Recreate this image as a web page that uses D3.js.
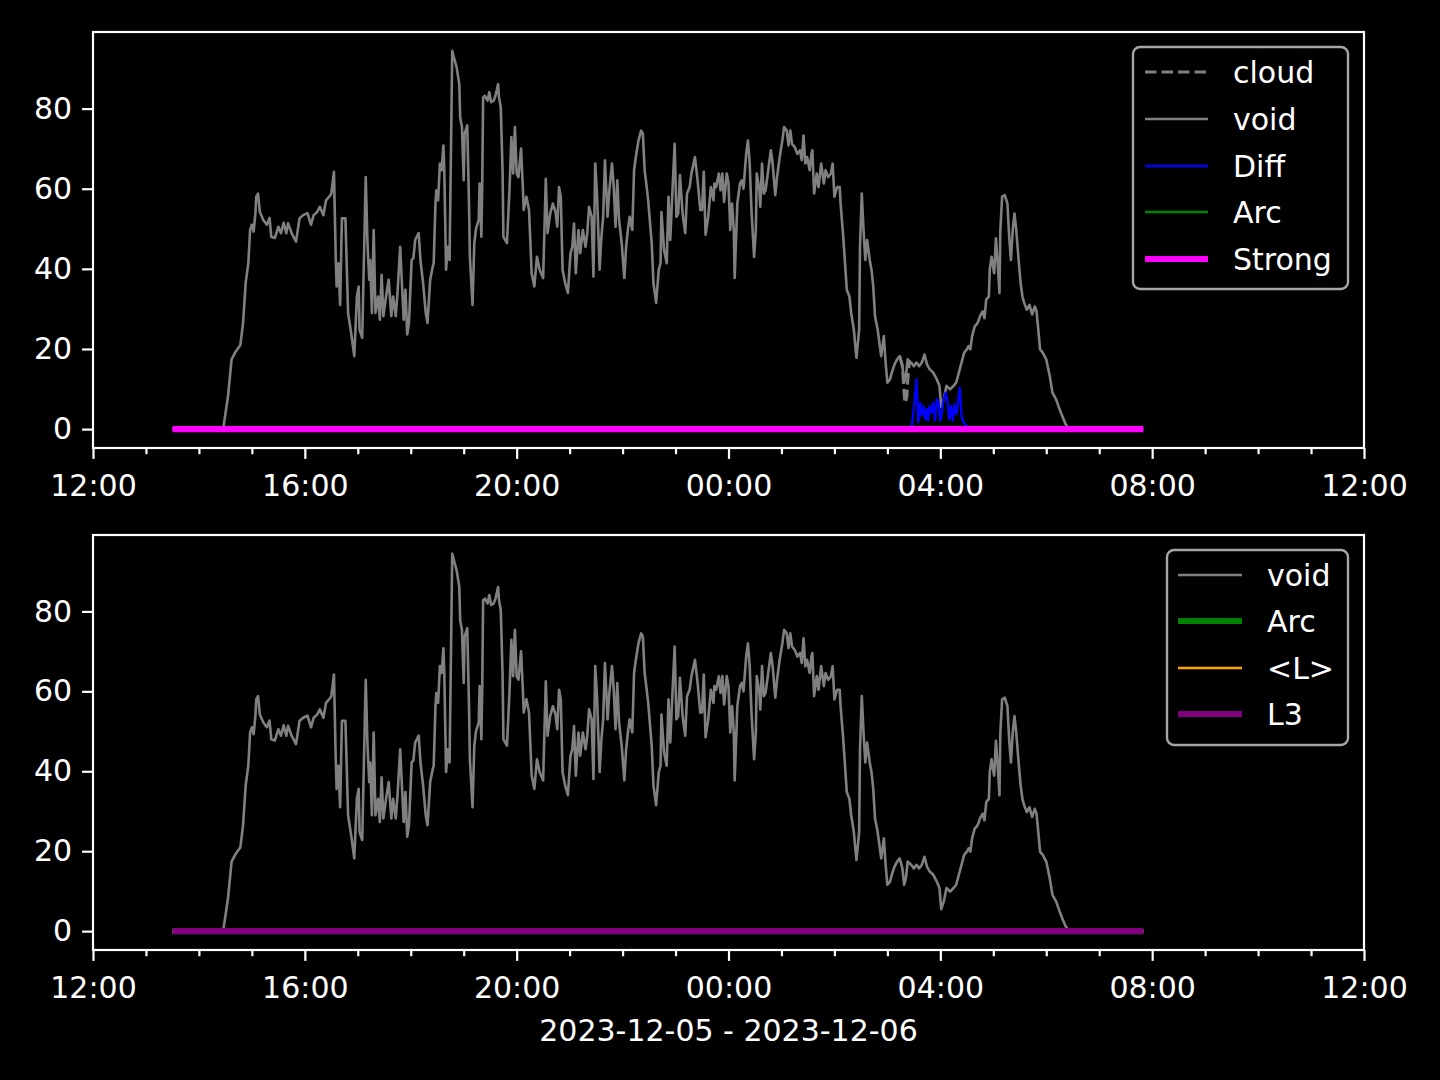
<!DOCTYPE html>
<html><head><meta charset="utf-8">
<script src="https://cdn.jsdelivr.net/npm/d3@7"></script>
<style>html,body{margin:0;background:#000;} svg{display:block;}</style>
</head><body>
<svg id="chart" width="1440" height="1080"></svg>
<script>
// Times are minutes after 2023-12-05 12:00
const voidPoints = [[90,0],[146,0],[148,0.8],[153,8.3],[157,17.4],[161,19.1],[167,21],[170,26.5],[173,36.5],[176,41.5],[178,49.7],[180,51],[182,49.3],[184,53.9],[185,58],[187,58.8],[189,54.2],[193,52.2],[197,51],[200,52.7],[202,48],[206,47.7],[210,50.5],[213,48.9],[216,51.5],[219,48.9],[221,51.4],[225,48.9],[230,46.8],[234,52.6],[238,53.4],[243,53.9],[247,51],[250,53.4],[254,54.2],[257,55.5],[261,53.4],[264,57.1],[269,58.4],[270,58.8],[273,64.2],[275,43],[276,35.6],[278,41.4],[280,31],[282,52.6],[286,52.6],[289,29],[293,23.2],[296,18.2],[299,33.1],[301,35.6],[302,24.8],[305,22.8],[309,62.9],[311,46.4],[313,37.3],[314,42.2],[316,29],[318,49.7],[320,29],[323,33.1],[325,27.3],[327,38.5],[329,28.2],[332,33.1],[335,37.3],[338,28.2],[340,33.1],[343,28.2],[345,34],[348,45.5],[350,36.4],[352,27.3],[354,34.8],[356,23.6],[358,26.5],[361,42.2],[363,42.7],[365,47.2],[369,48.9],[371,42.2],[374,36.4],[377,29],[379,26.5],[382,37.3],[385,40.6],[386,41.4],[388,56.3],[389,59.6],[391,57.1],[393,66.3],[395,64.6],[397,70.8],[398,64.6],[400,39.8],[402,45.5],[404,42.2],[407,94.4],[409,92.7],[412,90.3],[415,86.1],[416,77.8],[418,75.4],[420,62.1],[421,73.7],[424,75.8],[426,56.3],[427,43],[430,31],[432,46.4],[434,50.1],[437,52.2],[438,61.3],[440,48],[441,61.3],[442,82.8],[444,83.2],[447,82],[449,84.1],[451,81.6],[454,82],[456,83.2],[459,86.1],[460,82.8],[462,80.3],[464,64.6],[465,48],[469,46.4],[472,60.4],[474,72.9],[476,63.8],[478,75.4],[480,63.8],[482,62.9],[485,70],[487,60.4],[488,54.7],[491,58],[494,54.7],[497,38.9],[500,35.6],[503,43],[506,39.8],[510,37.7],[513,62.5],[515,48.9],[518,53.8],[521,56.3],[524,54.2],[526,50.5],[528,60.4],[530,58],[532,39.8],[535,36.4],[538,34],[541,43.9],[543,45.5],[545,51.3],[547,38.9],[550,49.7],[552,43.9],[555,49.7],[558,45.5],[560,48.9],[562,55.5],[565,53],[567,38.1],[569,66.3],[571,58.8],[574,39.8],[576,48],[578,53],[580,67.1],[583,53],[585,59.6],[588,66.3],[590,60.4],[592,50.5],[594,62.1],[596,52.2],[599,46.4],[602,37.7],[604,45.5],[606,49.7],[608,53],[611,49.7],[613,64.6],[615,67.9],[618,72],[621,74.5],[623,73.7],[625,64.6],[627,61],[629,57.1],[633,46.4],[635,36.4],[638,31.5],[641,39.8],[643,41.4],[644,54.2],[647,44.7],[650,41.4],[652,58],[654,47.2],[656,57.1],[659,71.2],[661,53],[663,53.8],[665,63.4],[668,53.8],[671,48.9],[673,58.8],[676,60.4],[678,63.8],[682,67.9],[685,62.1],[688,54.7],[690,54.7],[692,64.2],[694,48.5],[697,53],[700,60.4],[703,57.1],[704,61.3],[706,60.4],[709,63.8],[711,59.6],[713,63.8],[715,56.7],[718,63.8],[720,61.3],[722,49.7],[724,56.3],[726,49.7],[727,37.7],[730,56.3],[733,61.3],[735,62.1],[737,60],[740,68.7],[742,72],[744,66.3],[746,54.7],[749,43],[751,49.7],[752,63.8],[755,59.6],[756,55.5],[758,66.3],[760,58.8],[762,59.6],[765,64.6],[768,69.6],[770,66.3],[773,58.4],[775,62.9],[778,67.9],[781,72],[783,75.4],[786,74.5],[788,70.8],[790,74.5],[792,71.2],[795,70.4],[798,68.7],[801,69.6],[803,67.1],[805,73.3],[807,66.3],[809,67.9],[812,64.6],[814,68.7],[815,69.6],[817,58.8],[820,63.8],[822,60.4],[825,66.3],[828,61.3],[830,64.6],[833,62.9],[836,63.8],[838,66.3],[840,58],[843,60.4],[846,60.4],[847,56.3],[850,48],[852,41.4],[854,34.8],[857,33.1],[859,29],[862,24.8],[864,19.9],[865,17.8],[868,24.8],[869,45.5],[871,58.8],[873,49.7],[875,42.2],[877,47.2],[880,42.2],[882,39.8],[884,35.6],[886,28.2],[889,24.8],[891,21.5],[893,18.2],[896,23.2],[898,16.6],[900,11.6],[903,12.4],[905,14.1],[908,16.1],[911,17.4],[914,18.2],[917,15.7],[919,11.6],[921,13.2],[923,17.4],[927,16.6],[930,15.7],[933,16.6],[936,15.7],[939,16.6],[942,18.6],[945,16.1],[948,14.9],[952,14.1],[956,12.4],[959,10.8],[961,5.5],[964,7.5],[967,10.8],[971,9.9],[975,10.8],[978,11.6],[981,14.1],[984,16.6],[987,19.1],[990,19.9],[992,20.7],[994,19.9],[996,23.2],[999,25.7],[1001,26.1],[1003,26.9],[1005,28.2],[1008,29.4],[1010,27.7],[1012,32.3],[1015,33.1],[1016,39.8],[1018,43],[1021,38.9],[1023,47.6],[1025,41.4],[1027,34],[1028,49.7],[1030,58],[1033,58.4],[1036,56.3],[1038,48],[1040,42.2],[1042,49.7],[1044,53.8],[1046,49.7],[1049,41.4],[1051,36.4],[1053,33.1],[1055,31.5],[1058,29.8],[1061,31],[1064,28.6],[1067,30.6],[1069,29.4],[1071,24.8],[1073,19.9],[1076,19.1],[1080,17.4],[1084,13.2],[1087,9.1],[1091,7.5],[1095,5],[1098,3.3],[1102,1.2],[1104,0.6],[1106,0],[1190,0]];

const cloudPoints = [[914,18.2],[917,15.7],[919,9],[920,6.5],[922,8],[923,12],[925,17]];

const diffPoints = [[90,0],[926,0],[928,1.2],[929,3.3],[931,7.5],[933,12.4],[934,6.6],[935,1.7],[937,6.6],[939,3.3],[941,5.8],[943,2.5],[945,5],[946,2.1],[948,5.8],[950,4.1],[952,6.6],[954,2.1],[956,7.5],[958,6.6],[960,2.1],[962,4.5],[963,6.6],[966,9.1],[968,7],[970,2.5],[972,5.8],[974,2.1],[976,6.2],[978,3.7],[979,5],[982,10.4],[984,3.3],[986,1.7],[989,1],[991,0],[1190,0]];

const flatMinutes = [90, 1190];
const arcValues = [0, 0];
const strongValues = [0, 0];
const lValues = [0, 0];
const l3Values = [0, 0];

const xTickLabels = ["12:00","16:00","20:00","00:00","04:00","08:00","12:00"];
const yTicks = [0, 20, 40, 60, 80];
const xAxisLabel = "2023-12-05 - 2023-12-06";
const topLegendLabels = ["cloud","void","Diff","Arc","Strong"];
const bottomLegendLabels = ["void","Arc","<L>","L3"];

// ---------------- drawing ----------------
const svg = d3.select("#chart");
svg.append("rect").attr("width",1440).attr("height",1080).attr("fill","#000");
const FONT = "'DejaVu Sans', sans-serif";
const base = new Date(2023, 11, 5, 12, 0).getTime();
const toDate = m => new Date(base + m * 60000);

const left = 93, right = 1364;
const x = d3.scaleTime().domain([toDate(0), toDate(1440)]).range([left, right]);

const allVals = voidPoints.map(d => d[1]).concat(diffPoints.map(d => d[1]), strongValues);
const [lo, hi] = d3.extent(allVals);
const pad = (hi - lo) * 0.05;

const flat = vals => flatMinutes.map((m, i) => [m, vals[i]]);

const series = {
  cloud:  {pts: cloudPoints, color:"#808080", w:3.1, dash:"11.5,5"},
  void:   {pts: voidPoints, color:"#808080", w:2.6},
  Diff:   {pts: diffPoints, color:"#0000ff", w:2.3},
  ArcTop: {pts: flat(arcValues), color:"#008000", w:2.3},
  Strong: {pts: flat(strongValues), color:"#ff00ff", w:6.2},
  ArcBot: {pts: flat(arcValues), color:"#008000", w:6.2},
  L:      {pts: flat(lValues), color:"#ffa500", w:2.3},
  L3:     {pts: flat(l3Values), color:"#800080", w:6.2}
};

const panels = [
  {top:32, bottom:448, lines:["cloud","void","Diff","ArcTop","Strong"], legend:topLegendLabels,
   box:{x:1133,y:47,w:215,h:242}, rows:[72,119,166,212,259], lx:[1145,1208], tx:1233},
  {top:535, bottom:950, lines:["void","ArcBot","L","L3"], legend:bottomLegendLabels,
   box:{x:1167,y:550,w:181,h:195}, rows:[575,621,668,714], lx:[1178,1242], tx:1267}
];

panels.forEach((p, pi) => {
  const y = d3.scaleLinear().domain([lo - pad, hi + pad]).range([p.bottom, p.top]);
  const g = svg.append("g");
  const clipId = "clip" + pi;
  svg.append("clipPath").attr("id", clipId).append("rect")
    .attr("x", left).attr("y", p.top).attr("width", right-left).attr("height", p.bottom-p.top);

  const line = d3.line().x(d => x(toDate(d[0]))).y(d => y(d[1]));
  const lg = g.append("g").attr("clip-path", `url(#${clipId})`);
  p.lines.forEach(k => {
    const s = series[k];
    lg.append("path").attr("d", line(s.pts)).attr("fill","none")
      .attr("stroke", s.color).attr("stroke-width", s.w)
      .attr("stroke-linejoin","round")
      .attr("stroke-dasharray", s.dash || null);
  });

  // frame
  g.append("rect").attr("x", left).attr("y", p.top).attr("width", right-left).attr("height", p.bottom-p.top)
    .attr("fill","none").attr("stroke","#fff").attr("stroke-width",2.2);

  // x axis
  const major = d3.range(0, 1441, 240).map(toDate);
  const minor = d3.range(0, 1441, 60).filter(m => m % 240 !== 0).map(toDate);
  const xa = g.append("g").attr("transform", `translate(0,${p.bottom})`)
    .call(d3.axisBottom(x).tickValues(major).tickSize(10.9).tickPadding(16).tickFormat((d,i) => xTickLabels[i]));
  const xm = g.append("g").attr("transform", `translate(0,${p.bottom})`)
    .call(d3.axisBottom(x).tickValues(minor).tickSize(6.2).tickFormat(""));
  // y axis
  const ya = g.append("g").attr("transform", `translate(${left},0)`)
    .call(d3.axisLeft(y).tickValues(yTicks).tickSize(10.9).tickPadding(10));
  [xa, xm, ya].forEach(a => {
    a.select(".domain").remove();
    a.selectAll("line").attr("stroke","#fff").attr("stroke-width",2.2);
    a.selectAll("text").attr("fill","#fff").style("font-family", FONT).style("font-size","30px");
  });

  // legend
  const b = p.box;
  g.append("rect").attr("x", b.x).attr("y", b.y).attr("width", b.w).attr("height", b.h)
    .attr("rx", 7).attr("fill","#000").attr("fill-opacity",0.8)
    .attr("stroke","#a6a6a6").attr("stroke-width",2.4);
  p.lines.forEach((k, i) => {
    const s = series[k];
    const ry = p.rows[i];
    g.append("line").attr("x1", p.lx[0]).attr("x2", p.lx[1]).attr("y1", ry).attr("y2", ry)
      .attr("stroke", s.color).attr("stroke-width", s.w)
      .attr("stroke-dasharray", s.dash || null);
    g.append("text").attr("x", p.tx).attr("y", ry + 11).text(p.legend[i])
      .attr("fill","#fff").style("font-family", FONT).style("font-size","30px");
  });
});

svg.append("text").attr("x", (left+right)/2).attr("y", 1041).attr("text-anchor","middle")
  .text(xAxisLabel).attr("fill","#fff").style("font-family", FONT).style("font-size","30px");
</script>
</body></html>
